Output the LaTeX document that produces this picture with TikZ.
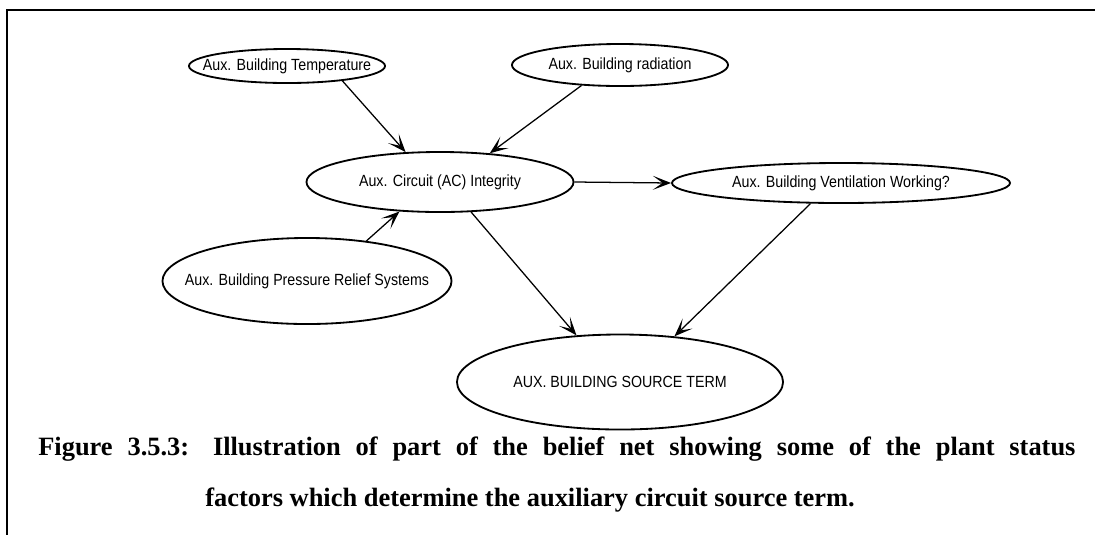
\documentclass[tikz,border=0pt]{standalone}
\usepackage{fontspec}
\setmainfont{Liberation Serif}
\newfontfamily\netfont[FakeStretch=0.88]{Liberation Sans}
\usepackage{tikz}
\usetikzlibrary{shapes.geometric, arrows.meta}
\tikzstyle{myframe}=[line width=1.2pt]
\newcommand{\nodetext}[1]{\makebox[0pt]{#1}}

\begin{document}
\begin{tikzpicture}[x=0.025cm, y=-0.025cm]
            \tikzset {
                belief node/.style={
                        draw,
                        ellipse,
                        line width=1.3pt,
                        font=\netfont\fontsize{11.5}{13}\selectfont,
                        inner sep=0pt
                    },
                belief arrow/.style={
                        -{Stealth[length=13pt, width=10pt, inset=7pt]},
                        line width=0.9pt
                    }}
            \useasboundingbox (0,0) rectangle (1095,535);

            % frame
            \draw[myframe] (1095,10) -- (7,10) -- (7,535);

            % parents
            \node[belief node, minimum width=4.9cm, minimum height=0.85cm] (temp) at (287,66) {\nodetext{Aux. Building Temperature}};
            \node[belief node, minimum width=5.4cm, minimum height=1.05cm] (radiation) at (620,65) {\nodetext{Aux. Building radiation}};
            \node[belief node, minimum width=7.225cm, minimum height=2.15cm] (pressure) at (307,281) {\nodetext{Aux. Building Pressure Relief Systems}};

            % middle
            \node[belief node, minimum width=6.675cm, minimum height=1.5cm] (circuit) at (440,182) {\nodetext{Aux. Circuit (AC) Integrity}};
            \node[belief node, minimum width=8.45cm, minimum height=1.0cm] (ventilation) at (841,183) {\nodetext{Aux. Building Ventilation Working?}};

            % child
            \node[belief node, minimum width=8.15cm, minimum height=2.375cm] (sourceterm) at (620,382) {\nodetext{AUX. BUILDING SOURCE TERM}};

            % links
            \draw[belief arrow] (temp.-15) -- (circuit.139);
            \draw[belief arrow] (radiation.-152) -- (circuit.30);
            \draw[belief arrow] (pressure.34) -- (circuit.-144);
            \draw[belief arrow] (circuit.east) -- (ventilation.west);
            \draw[belief arrow] (circuit.-44) -- (sourceterm.133);
            \draw[belief arrow] (ventilation.-146) -- (sourceterm.40);

            % caption
            \node[anchor=base west, font=\bfseries\fontsize{18.8}{22}\selectfont, inner sep=0pt] (caption1) at (38,455) {\makebox[25.925cm][s]{Figure 3.5.3:\hspace{0.9em}Illustration of part of the belief net showing some of the plant status}};
            \node[anchor=base, font=\bfseries\fontsize{18.8}{22}\selectfont, inner sep=0pt] (caption2) at (530,506) {factors which determine the auxiliary circuit source term.};
        \end{tikzpicture}
\end{document}
